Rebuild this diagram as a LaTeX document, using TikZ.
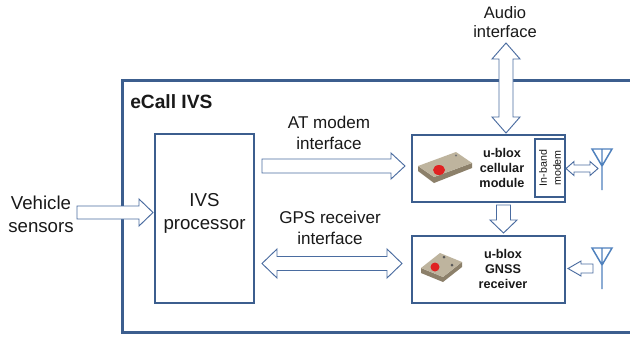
\documentclass[tikz,border=0pt]{standalone}
\usepackage{fontspec}
\setmainfont{Liberation Sans}
\usetikzlibrary{calc,fit}

\definecolor{ivsblue}{RGB}{60,94,142}
\definecolor{arrblue}{RGB}{74,108,160}
\definecolor{antblue}{RGB}{79,129,189}
\definecolor{chiptop}{RGB}{190,180,158}
\definecolor{chipside}{RGB}{140,128,106}
\definecolor{chipred}{RGB}{224,34,34}

\tikzset{
  shaftw/.store in=\arrsw, headw/.store in=\arrhw, headl/.store in=\arrhl,
  shaftw=5.25pt, headw=10.5pt, headl=10.5pt,
  blockarrow/.style={draw=arrblue, fill=white, line width=0.7pt, line join=miter,
    to path={let \p1=($(\tikztotarget)!\arrhl!(\tikztostart)$) in
      ($(\tikztostart)!\arrsw!90:(\tikztotarget)$)
      -- ($(\p1)!\arrsw!-90:(\tikztostart)$)
      -- ($(\p1)!\arrhw!-90:(\tikztostart)$)
      -- (\tikztotarget)
      -- ($(\p1)!\arrhw!90:(\tikztostart)$)
      -- ($(\p1)!\arrsw!90:(\tikztostart)$)
      -- ($(\tikztostart)!\arrsw!-90:(\tikztotarget)$)
      -- cycle}},
  dblockarrow/.style={draw=arrblue, fill=white, line width=0.7pt, line join=miter,
    to path={let \p1=($(\tikztostart)!\arrhl!(\tikztotarget)$),
                 \p2=($(\tikztotarget)!\arrhl!(\tikztostart)$) in
      (\tikztostart)
      -- ($(\p1)!\arrhw!90:(\tikztotarget)$)
      -- ($(\p1)!\arrsw!90:(\tikztotarget)$)
      -- ($(\p2)!\arrsw!-90:(\tikztostart)$)
      -- ($(\p2)!\arrhw!-90:(\tikztostart)$)
      -- (\tikztotarget)
      -- ($(\p2)!\arrhw!90:(\tikztostart)$)
      -- ($(\p2)!\arrsw!90:(\tikztostart)$)
      -- ($(\p1)!\arrsw!-90:(\tikztotarget)$)
      -- ($(\p1)!\arrhw!-90:(\tikztotarget)$)
      -- cycle}},
  ivsbox/.style={draw=ivsblue, line width=0.9pt, inner sep=0pt, outer sep=0pt},
  modbox/.style={draw=ivsblue, line width=1.5pt, inner sep=0pt, outer sep=0pt},
  bigtxt/.style={font=\fontsize{14}{17.25}\selectfont, align=center, inner sep=0pt},
  lbltxt/.style={font=\fontsize{12.8}{15.75}\selectfont, align=center, inner sep=0pt},
  modtxt/.style={font=\fontsize{9.5}{11.25}\selectfont\bfseries, align=center, inner sep=0pt},
  antenna/.pic={\draw[antblue, line width=1.1pt] (-10,0) -- (10,0) -- (0,17) -- cycle (0,0) -- (0,41);}
}

\begin{document}
\begin{tikzpicture}[x=0.75pt, y=-0.75pt, text=black!90]
\useasboundingbox (0,0) rectangle (630,337);
\clip (0,0) rectangle (630,337);
\fill[white] (0,0) rectangle (630,337);

% eCall IVS frame
\draw[ivsblue, line width=2.25pt] (122,80) rectangle (660,332);
\node[font=\fontsize{14.4}{17}\selectfont\bfseries, anchor=west, inner sep=0pt] (title) at (130,102) {eCall IVS};

% boxes
\node[ivsbox, fit={(155,134) (254,303)}] (ivs) {};
\node[bigtxt] (ivstxt) at ($(ivs.center)+(0,-5)$) {IVS\\processor};
\node[modbox, fit={(412,135) (565,202)}] (cell) {};
\node[modbox, fit={(535,139) (565,197)}] (inband) {};
\node[modbox, fit={(412,236) (565,303)}] (gnss) {};
\node[modtxt] (celltxt) at (502,168) {u-blox\\cellular\\module};
\node[modtxt] (gnsstxt) at (503,269) {u-blox\\GNSS\\receiver};
\node[font=\fontsize{8}{10.5}\selectfont, align=center, inner sep=0pt, rotate=90] (inbandtxt) at (inband.center) {In-band\\modem};

% chips
\fill[chipside] (418,166) -- (434,177) -- (472,163) -- (472,168) -- (434,183) -- (418,171) -- cycle;
\fill[chiptop] (418,166) -- (456,152) -- (472,163) -- (434,177) -- cycle;
\fill[chipred] (439,170) ellipse[x radius=6, y radius=5];
\fill[black!55] (456,155.5) circle[radius=1.2];
\fill[chipside] (421,268) -- (443,277) -- (462,262) -- (462,267) -- (443,282) -- (421,273) -- cycle;
\fill[chiptop] (421,268) -- (440,253) -- (462,262) -- (443,277) -- cycle;
\fill[chipred] (435,267) circle[radius=4.5];
\fill[black!65] (444,257) circle[radius=1.5];
\fill[black!65] (452,265) circle[radius=1.5];

% labels
\node[bigtxt] (veh) at (41,214.5) {Vehicle\\sensors};
\node[lbltxt] (atlbl) at (329,132.5) {AT modem\\interface};
\node[lbltxt] (gpslbl) at (330,227.5) {GPS receiver\\interface};
\node[lbltxt, font=\fontsize{12.4}{14.25}\selectfont] (audiolbl) at (505,22.5) {Audio\\interface};

% antennas
\pic at (602,149) {antenna};
\pic at (602,248) {antenna};
\coordinate (ant1) at (602,168.5);
\coordinate (ant2) at (602,269.5);

% arrow ends
\coordinate (vehs) at ($(ivs.west)+(-78,-6)$);
\coordinate (vehe) at ($(ivs.west)+(-2,-6)$);
\coordinate (ats) at ($(ivs.east |- cell.west)+(8,-2.5)$);
\coordinate (ate) at ($(cell.west)+(-7,-2.5)$);
\coordinate (gpss) at ($(ivs.east |- gnss.west)+(8,-6)$);
\coordinate (gpse) at ($(gnss.west)+(-10,-6)$);
\coordinate (dns) at ($(cell.south)+(15,3)$);
\coordinate (dne) at ($(gnss.north)+(15,-3)$);
\coordinate (aus) at ($(cell.north)+(17.5,-92)$);
\coordinate (aue) at ($(cell.north)+(17.5,-2)$);
\coordinate (a1s) at ($(cell.east)+(1,0)$);
\coordinate (a1e) at ($(ant1)+(-4,0)$);
\coordinate (a2s) at ($(ant2)+(-9,-1)$);
\coordinate (a2e) at ($(gnss.east)+(3,-1)$);

% arrows
\draw[blockarrow, shaftw=4.875pt, headw=10.125pt] (vehs) to (vehe);
\draw[blockarrow, headw=9.75pt] (ats) to (ate);
\draw[dblockarrow, headw=10.875pt, headl=11.25pt] (gpss) to (gpse);
\draw[blockarrow, headw=10.125pt, headl=9.75pt] (dns) to (dne);
\draw[dblockarrow, headl=12pt] (aus) to (aue);
\draw[dblockarrow, shaftw=2.625pt, headw=5.25pt, headl=6pt] (a1s) to (a1e);
\draw[blockarrow, shaftw=3.375pt, headw=5.6pt, headl=9.75pt] (a2s) to (a2e);
\end{tikzpicture}
\end{document}
